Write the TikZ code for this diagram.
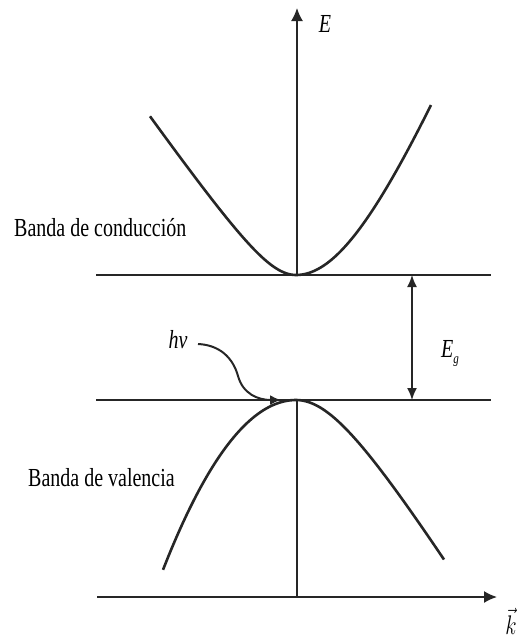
\documentclass[tikz,border=0pt]{standalone}
\usepackage{fontspec}
\setmainfont{Liberation Serif}
\usepackage{graphicx}
\usetikzlibrary{arrows.meta}
\newcommand{\estirado}[1]{\scalebox{1}[1.3]{#1}}

\begin{document}
\begin{tikzpicture}[x=1pt, y=-1pt,
	linea/.style={line width=2.6pt, black!85},
	eje/.style={line width=1.6pt, black!85},
	flecha/.style={-{Latex[length=13pt, width=12pt]}},
	texto/.style={font=\fontsize{20}{24}\selectfont, inner sep=0pt}]
	\useasboundingbox (0,0) rectangle (522,638);
	% puntos de referencia
	\coordinate (minc) at (296,275);
	\coordinate (maxv) at (296,400);
	% niveles de las bandas
	\draw[linea] (96,275) -- (491,275);
	\draw[linea] (96,400) -- (491,400);
	% ejes
	\coordinate (k0) at (97,597);
	\coordinate (k1) at (497,597);
	\coordinate (e1) at (297,8);
	\draw[eje, flecha] (k0) -- (k1);
	\draw[eje, flecha] (minc -| e1) -- (e1);
	\draw[eje] (maxv -| e1) -- (k0 -| e1);
	\node[texto] (E) at (325,24) {\estirado{\textit{E}}};
	\node[texto] (k) at (511,621) {\estirado{$\vec{k}$}};
	% banda de conduccion
	\draw[linea] plot[domain=-14.6:0, samples=50, smooth]
		({296+10*\x},{275-14.25*(sqrt(16+\x*\x)-4)});
	\draw[linea] plot[domain=0:13.5, samples=50, smooth]
		({296+10*\x},{275-25*(sqrt(100+\x*\x)-10)});
	% banda de valencia
	\draw[linea] plot[domain=-13.3:0, samples=50, smooth]
		({296+10*\x},{400+0.96*\x*\x});
	\draw[linea] plot[domain=0:14.8, samples=50, smooth]
		({296+10*\x},{400+16*(sqrt(36+\x*\x)-6)});
	\node[texto, anchor=base west] (bc) at (14,236) {\estirado{Banda de conducción}};
	\node[texto, anchor=base west] (bv) at (28,486) {\estirado{Banda de valencia}};
	% gap
	\coordinate (g1) at (412,275);
	\coordinate (g2) at (412,400);
	\draw[eje, {Latex[length=12pt, width=10pt]}-{Latex[length=12pt, width=10pt]}] (g1) -- (g2);
	\node[texto, anchor=base west] (Eg) at (441,357) {\estirado{\textit{E}\raisebox{-5pt}{\fontsize{11}{12}\selectfont\textit{g}}}};
	% foton
	\node[texto, anchor=base] (hv) at (178,348) {\estirado{\textit{hν}}};
	\draw[line width=2pt, black!85, -{Latex[length=11pt, width=10pt]}]
		(198,344) .. controls (220,345) and (233,358) .. (238,376)
		.. controls (243,394) and (258,400) .. ([xshift=-15pt]maxv);
\end{tikzpicture}
\end{document}
